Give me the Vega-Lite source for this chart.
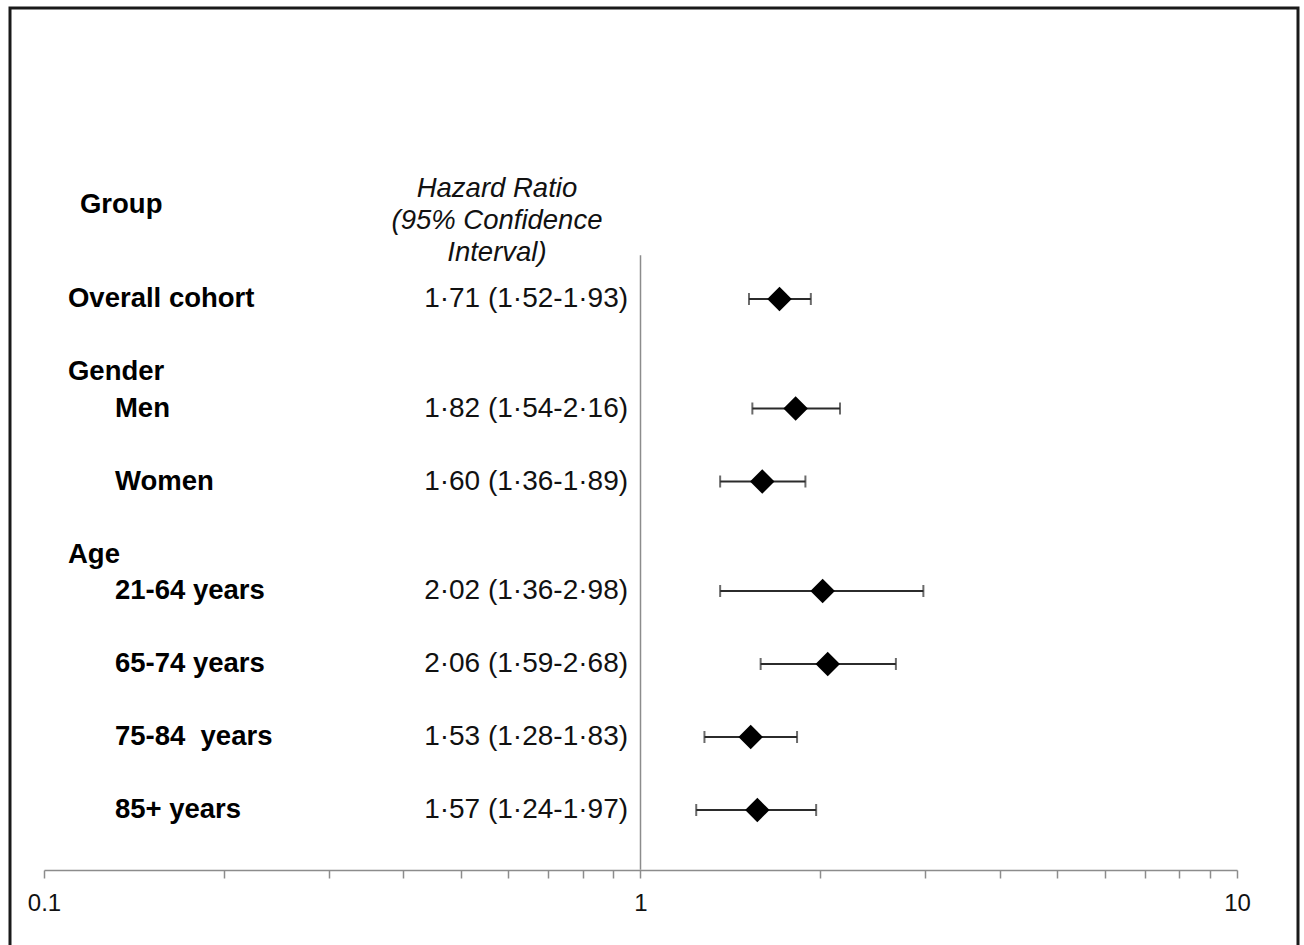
{
  "$schema": "https://vega.github.io/schema/vega-lite/v6.json",
  "width": 1288,
  "height": 960,
  "autosize": "none",
  "padding": {"left": 10, "top": 8, "right": 6, "bottom": 0},
  "background": "white",
  "config": {
    "view": {"stroke": "#1a1a1a", "strokeWidth": 3},
    "font": "Liberation Sans",
    "text": {"font": "Liberation Sans"}
  },
  "datasets": {
    "rows": [
      {"label": "Overall cohort", "level": 0, "row": 0, "hr": 1.71, "lo": 1.52, "hi": 1.93, "ci": "1·71 (1·52-1·93)"},
      {"label": "Gender", "level": 0, "row": 2},
      {"label": "Men", "level": 1, "row": 3, "hr": 1.82, "lo": 1.54, "hi": 2.16, "ci": "1·82 (1·54-2·16)"},
      {"label": "Women", "level": 1, "row": 5, "hr": 1.60, "lo": 1.36, "hi": 1.89, "ci": "1·60 (1·36-1·89)"},
      {"label": "Age", "level": 0, "row": 7},
      {"label": "21-64 years", "level": 1, "row": 8, "hr": 2.02, "lo": 1.36, "hi": 2.98, "ci": "2·02 (1·36-2·98)"},
      {"label": "65-74 years", "level": 1, "row": 10, "hr": 2.06, "lo": 1.59, "hi": 2.68, "ci": "2·06 (1·59-2·68)"},
      {"label": "75-84\u00a0 years", "level": 1, "row": 12, "hr": 1.53, "lo": 1.28, "hi": 1.83, "ci": "1·53 (1·28-1·83)"},
      {"label": "85+ years", "level": 1, "row": 14, "hr": 1.57, "lo": 1.24, "hi": 1.97, "ci": "1·57 (1·24-1·97)"}
    ]
  },
  "data": {"name": "rows"},
  "layer": [
    {
      "transform": [{"filter": "isValid(datum.hr)"}],
      "mark": {"type": "rule", "stroke": "#2b2b2b", "strokeWidth": 1.8},
      "encoding": {
        "x": {
          "field": "lo", "type": "quantitative",
          "scale": {"type": "log", "domain": [0.1, 10], "range": [34, 1227], "nice": false},
          "axis": {
            "orient": "bottom",
            "offset": -98,
            "title": null,
            "grid": false,
            "values": [0.1, 0.2, 0.3, 0.4, 0.5, 0.6, 0.7, 0.8, 0.9, 1, 2, 3, 4, 5, 6, 7, 8, 9, 10],
            "labelExpr": "abs(datum.value - 0.1) < 1e-9 ? '0.1' : abs(datum.value - 1) < 1e-9 ? '1' : abs(datum.value - 10) < 1e-9 ? '10' : ''",
            "labelOverlap": false,
            "labelFlush": false,
            "domainColor": "#8c8c8c",
            "domainWidth": 1.5,
            "tickColor": "#8c8c8c",
            "tickWidth": 1.5,
            "tickSize": 8,
            "labelFont": "Liberation Sans",
            "labelFontSize": 24,
            "labelColor": "#111",
            "labelPadding": 13
          }
        },
        "x2": {"field": "hi"},
        "y": {
          "field": "row", "type": "quantitative",
          "scale": {"domain": [0, 14], "range": [291, 802], "nice": false, "zero": false},
          "axis": null
        }
      }
    },
    {
      "data": {"values": [{}]},
      "mark": {"type": "rule", "stroke": "#8c8c8c", "strokeWidth": 1.5},
      "encoding": {
        "x": {"datum": 1, "type": "quantitative"},
        "y": {"datum": -1.2, "type": "quantitative"},
        "y2": {"datum": 15.64}
      }
    },
    {
      "transform": [{"filter": "isValid(datum.hr)"}],
      "mark": {"type": "tick", "orient": "vertical", "color": "#2b2b2b", "size": 12, "thickness": 2},
      "encoding": {
        "x": {"field": "lo", "type": "quantitative"},
        "y": {"field": "row", "type": "quantitative"}
      }
    },
    {
      "transform": [{"filter": "isValid(datum.hr)"}],
      "mark": {"type": "tick", "orient": "vertical", "color": "#2b2b2b", "size": 12, "thickness": 2},
      "encoding": {
        "x": {"field": "hi", "type": "quantitative"},
        "y": {"field": "row", "type": "quantitative"}
      }
    },
    {
      "transform": [{"filter": "isValid(datum.hr)"}],
      "mark": {"type": "point", "shape": "diamond", "filled": true, "color": "#000", "size": 600, "opacity": 1},
      "encoding": {
        "x": {"field": "hr", "type": "quantitative"},
        "y": {"field": "row", "type": "quantitative"}
      }
    },
    {
      "transform": [{"filter": "datum.level == 0"}],
      "mark": {"type": "text", "align": "left", "baseline": "middle", "fontWeight": "bold", "fontSize": 27.5, "color": "#000"},
      "encoding": {
        "x": {"datum": 0.1097, "type": "quantitative"},
        "y": {"field": "row", "type": "quantitative"},
        "text": {"field": "label"}
      }
    },
    {
      "transform": [{"filter": "datum.level == 1"}],
      "mark": {"type": "text", "align": "left", "baseline": "middle", "fontWeight": "bold", "fontSize": 27.5, "color": "#000"},
      "encoding": {
        "x": {"datum": 0.1315, "type": "quantitative"},
        "y": {"field": "row", "type": "quantitative"},
        "text": {"field": "label"}
      }
    },
    {
      "transform": [{"filter": "isValid(datum.hr)"}],
      "mark": {"type": "text", "align": "right", "baseline": "middle", "fontSize": 28, "color": "#111"},
      "encoding": {
        "x": {"datum": 0.953, "type": "quantitative"},
        "y": {"field": "row", "type": "quantitative"},
        "text": {"field": "ci"}
      }
    },
    {
      "data": {"values": [{"t": "Group"}]},
      "mark": {"type": "text", "align": "left", "baseline": "middle", "fontWeight": "bold", "fontSize": 27.5, "color": "#000"},
      "encoding": {
        "x": {"datum": 0.1149, "type": "quantitative"},
        "y": {"datum": -2.575, "type": "quantitative"},
        "text": {"field": "t"}
      }
    },
    {
      "data": {"values": [{"t": "Hazard Ratio\n(95% Confidence\nInterval)"}]},
      "mark": {"type": "text", "align": "center", "baseline": "middle", "fontStyle": "italic", "fontSize": 27.5, "lineHeight": 32, "lineBreak": "\n", "color": "#111"},
      "encoding": {
        "x": {"datum": 0.5746, "type": "quantitative"},
        "y": {"datum": -3.014, "type": "quantitative"},
        "text": {"field": "t"}
      }
    }
  ]
}
